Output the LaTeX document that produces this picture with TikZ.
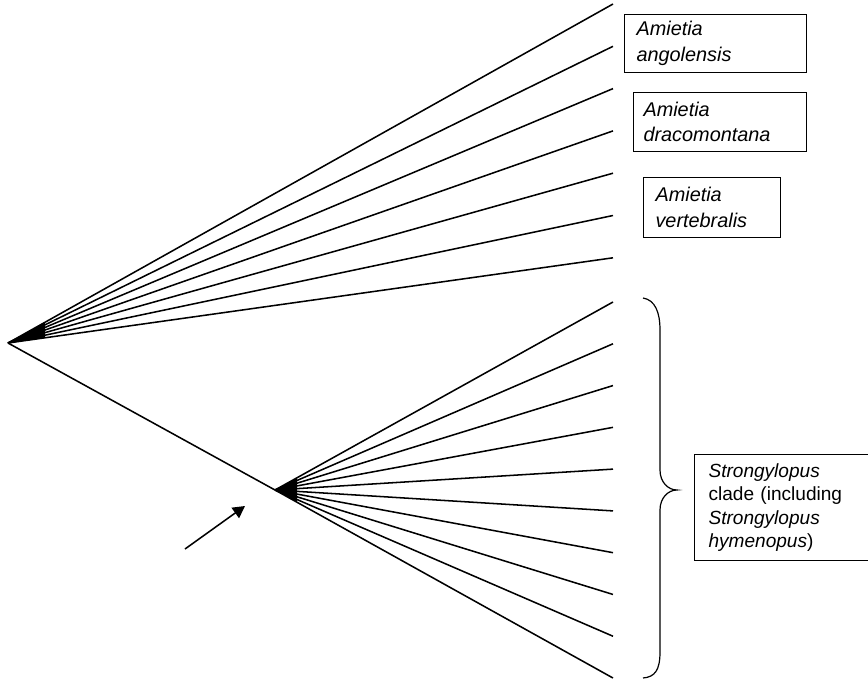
\documentclass[tikz,border=0pt]{standalone}
\usepackage{fontspec}
\setmainfont{Liberation Sans}
\usetikzlibrary{arrows.meta}
\begin{document}
\begin{tikzpicture}[x=0.75pt,y=-0.75pt,
  branch/.style={line width=1.15pt,black},
  fanfill/.style={fill=black,draw=none},
  taxbox/.style={draw,line width=0.8pt,anchor=north west,align=left,inner ysep=0pt,font=\fontsize{14.9}{19.1}\selectfont},
  cladebox/.style={draw,line width=0.8pt,anchor=north west,align=left,inner ysep=0pt,font=\fontsize{14.3}{17.3}\selectfont},
  bracestyle/.style={line width=0.9pt},
  pointer/.style={line width=1.15pt,-{Triangle[length=9pt,width=9.5pt]}}]
\useasboundingbox (0,0) rectangle (868,682);
% nodes of the tree
\coordinate (root) at (8,343);
\coordinate (lower) at (275,490);
\foreach \i in {0,...,6}{\coordinate (t\i) at (613,{4+42.3*\i});}
\foreach \i in {0,...,9}{\coordinate (s\i) at (613,{302+41.78*\i});}
% fills at the polytomies
\fill[fanfill] (root) -- (45,322.3) -- (45,338.0) -- cycle;
\fill[fanfill] (lower) -- (297,477.8) -- (297,502.2) -- cycle;
% branches
\foreach \i in {0,...,6}{\draw[branch] (root) -- (t\i);}
\draw[branch] (root) -- (lower);
\foreach \i in {0,...,9}{\draw[branch] (lower) -- (s\i);}
% labels
\node[taxbox,minimum width=136.5pt,minimum height=43.5pt,text width=118.5pt,inner xsep=9pt] (ang) at (624,14) {\textit{Amietia}\\\textit{angolensis}};
\node[taxbox,minimum width=129.75pt,minimum height=44.25pt,text width=114.75pt,inner xsep=7.5pt] (dra) at (633,92) {\textit{Amietia}\\\textit{dracomontana}};
\node[taxbox,minimum width=102.75pt,minimum height=45pt,text width=84.75pt,inner xsep=9pt] (ver) at (643,177) {\textit{Amietia}\\\textit{vertebralis}};
\node[cladebox,minimum width=133.5pt,minimum height=79.5pt,text width=112.5pt,inner xsep=10.5pt] (str) at (694,454) {\textit{Strongylopus}\\clade (including\\\textit{Strongylopus}\\\textit{hymenopus})};
% brace
\coordinate (btop) at (643,298);
\coordinate (btip) at (677,490);
\coordinate (bbot) at (643,678);
\draw[bracestyle] (btop) .. controls (655,300) and (660,312) .. (660,330) -- (660,470)
  .. controls (660,482) and (668,490) .. (btip)
  .. controls (668,490) and (660,498) .. (660,510) -- (660,652)
  .. controls (660,670) and (655,677) .. (bbot);
% arrow
\coordinate (atail) at (185,549);
\coordinate (ahead) at (245,506);
\draw[pointer] (atail) -- (ahead);
\end{tikzpicture}
\end{document}
